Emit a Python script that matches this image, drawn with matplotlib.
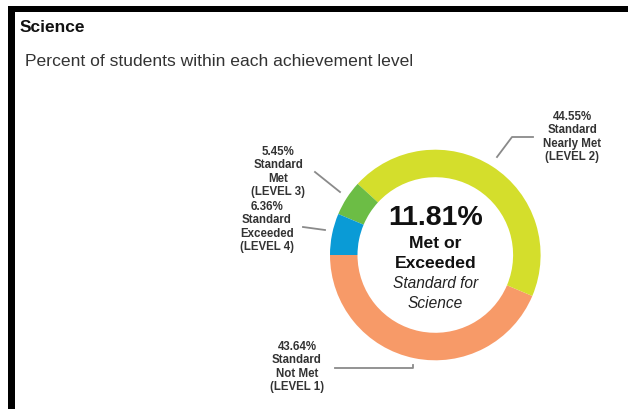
import matplotlib
matplotlib.use("Agg")
import matplotlib.pyplot as plt
from matplotlib.patches import Rectangle

levels = ["Standard Not Met (LEVEL 1)", "Standard Nearly Met (LEVEL 2)",
          "Standard Met (LEVEL 3)", "Standard Exceeded (LEVEL 4)"]
values = [43.64, 44.55, 5.45, 6.36]
colors = ["#F79A68", "#D4DE2C", "#6CBD45", "#0A9BD6"]
label_texts = ["43.64%\nStandard\nNot Met\n(LEVEL 1)",
               "44.55%\nStandard\nNearly Met\n(LEVEL 2)",
               "5.45%\nStandard\nMet\n(LEVEL 3)",
               "6.36%\nStandard\nExceeded\n(LEVEL 4)"]
met_or_exceeded = "11.81%"

W, H = 628, 409
fig = plt.figure(figsize=(W / 100, H / 100), dpi=100)
ax = fig.add_axes([0, 0, 1, 1])

def Y(y):
    return H - y

cx, cy, R, ring = 435.3, 255.0, 105.3, 27.5
ax.pie(values, colors=colors, startangle=180, counterclock=True,
       center=(cx, Y(cy)), radius=R,
       wedgeprops=dict(width=ring, linewidth=0))

ax.set_xlim(0, W)
ax.set_ylim(0, H)
ax.set_aspect("equal")
ax.axis("off")

# frame borders
ax.add_patch(Rectangle((8, Y(12)), W - 8, 6, color="black", lw=0))
ax.add_patch(Rectangle((8, 0), 7, Y(6), color="black", lw=0))

font = "Liberation Sans"
ax.text(20, Y(27), "Science", fontsize=12.5, fontweight="bold", family=font,
        ha="left", va="center", color="#111111")
ax.text(25, Y(62), "Percent of students within each achievement level",
        fontsize=12.6, family=font, ha="left", va="center", color="#333333")

# centre text
ax.text(cx, Y(218), met_or_exceeded, fontsize=20.5, fontweight="bold", family=font,
        ha="center", va="center", color="#111111")
ax.text(cx, Y(244), "Met or", fontsize=12.6, fontweight="bold", family=font,
        ha="center", va="center", color="#111111")
ax.text(cx, Y(264), "Exceeded", fontsize=12.6, fontweight="bold", family=font,
        ha="center", va="center", color="#111111")
ax.text(cx, Y(284), "Standard for", fontsize=11.2, style="italic", family=font,
        ha="center", va="center", color="#222222")
ax.text(cx, Y(303), "Science", fontsize=11.2, style="italic", family=font,
        ha="center", va="center", color="#222222")

# outside labels
label_pos = [(297, 367), (572, 137), (278, 172), (267, 227)]
for txt, (lx, ly) in zip(label_texts, label_pos):
    ax.text(lx, Y(ly), txt, fontsize=8.3, fontweight="bold", family=font,
            ha="center", va="center", color="#333333", linespacing=1.17)

lc = "#8a8a8a"
ax.plot([335, 413, 413], [Y(368), Y(368), Y(365)], color=lc, lw=1.3)
ax.plot([533, 512, 497], [Y(137), Y(137), Y(157)], color=lc, lw=1.3)
ax.plot([315, 340], [Y(172), Y(192)], color=lc, lw=1.3)
ax.plot([303, 325], [Y(227), Y(230)], color=lc, lw=1.3)

fig.savefig("out.png", dpi=100)
